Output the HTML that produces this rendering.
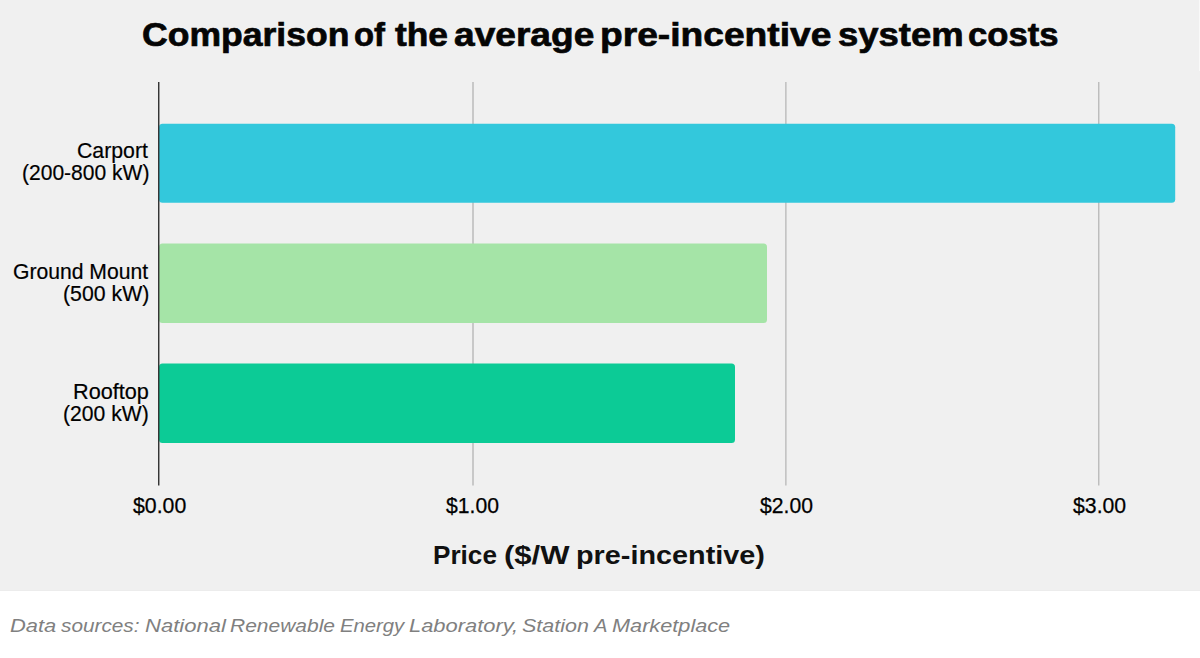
<!DOCTYPE html>
<html>
<head>
<meta charset="utf-8">
<style>
html,body{margin:0;padding:0;}
body{width:1200px;height:658px;position:relative;overflow:hidden;background:#ffffff;font-family:"Liberation Sans",Arial,sans-serif;}
#panel{position:absolute;left:0;top:0;width:1200px;height:591px;background:#f0f0f0;}
.t{position:absolute;white-space:nowrap;line-height:1;transform-origin:0 0;}
.ti{font-size:34px;font-weight:bold;color:#050505;-webkit-text-stroke:0.7px #050505;}
.xt{font-size:26px;font-weight:bold;color:#111;}
.ft{font-size:18.5px;font-style:italic;color:#808080;}
.yl{font-size:22px;color:#000;-webkit-text-stroke:0.2px #000;}
.tk{font-size:22px;color:#000;-webkit-text-stroke:0.25px #000;}
svg{position:absolute;left:0;top:0;}
</style>
</head>
<body>
<div id="panel"></div>
<svg width="1200" height="658" viewBox="0 0 1200 658">
  <rect x="472" y="82" width="2" height="403.5" fill="#c8c8c8"/>
  <rect x="785" y="82" width="1" height="403.5" fill="#c4c4c4"/>
  <rect x="786" y="82" width="1" height="403.5" fill="#d2d2d2"/>
  <rect x="1098" y="82" width="1" height="403.5" fill="#bdbdbd"/>
  <rect x="1099" y="82" width="1" height="403.5" fill="#d8d8d8"/>
  <rect x="159" y="123.7" width="1016.2" height="79" rx="3.5" ry="3.5" fill="#33c8dc"/>
  <rect x="159" y="243.6" width="608" height="79.3" rx="3.5" ry="3.5" fill="#a5e4a7"/>
  <rect x="159" y="363.6" width="576" height="79.4" rx="3.5" ry="3.5" fill="#0ccb96"/>
  <rect x="158" y="82" width="1.45" height="403.5" fill="#353535"/>
  <rect x="0" y="590" width="1200" height="1" fill="#ececec"/>
  <rect x="1199" y="0" width="1" height="71" fill="#f9f9f9"/>
</svg>
<div class="t ti" style="left:141.88px;top:17.00px;transform:scaleX(1.0454)">Comparison</div>
<div class="t ti" style="left:354.48px;top:17.00px;transform:scaleX(0.9645)">of</div>
<div class="t ti" style="left:395.43px;top:17.00px;transform:scaleX(1.0396)">the</div>
<div class="t ti" style="left:454.14px;top:17.00px;transform:scaleX(1.0912)">average</div>
<div class="t ti" style="left:599.85px;top:17.00px;transform:scaleX(1.0934)">pre-incentive</div>
<div class="t ti" style="left:837.72px;top:17.00px;transform:scaleX(1.0721)">system</div>
<div class="t ti" style="left:967.92px;top:17.00px;transform:scaleX(1.0187)">costs</div>
<div class="t xt" style="left:433.46px;top:542.00px;transform:scaleX(1.0050)">Price</div>
<div class="t xt" style="left:504.28px;top:542.00px;transform:scaleX(1.1939)">($/W</div>
<div class="t xt" style="left:575.96px;top:542.00px;transform:scaleX(1.1077)">pre-incentive)</div>
<div class="t ft" style="left:9.88px;top:616.50px;transform:scaleX(1.1850)">Data</div>
<div class="t ft" style="left:61.44px;top:616.50px;transform:scaleX(1.1223)">sources:</div>
<div class="t ft" style="left:144.86px;top:616.50px;transform:scaleX(1.1900)">National</div>
<div class="t ft" style="left:229.92px;top:616.50px;transform:scaleX(1.1340)">Renewable</div>
<div class="t ft" style="left:339.55px;top:616.50px;transform:scaleX(1.0955)">Energy</div>
<div class="t ft" style="left:409.08px;top:616.50px;transform:scaleX(1.1837)">Laboratory,</div>
<div class="t ft" style="left:521.53px;top:616.50px;transform:scaleX(1.1608)">Station</div>
<div class="t ft" style="left:594.42px;top:616.50px;transform:scaleX(1.0903)">A</div>
<div class="t ft" style="left:612.07px;top:616.50px;transform:scaleX(1.1728)">Marketplace</div>
<div class="t yl" style="left:77.18px;top:140.30px;transform:scaleX(0.9670)">Carport</div>
<div class="t yl" style="left:21.70px;top:161.90px;transform:scaleX(0.9561)">(200-800 kW)</div>
<div class="t yl" style="left:12.99px;top:261.10px;transform:scaleX(0.9607)">Ground Mount</div>
<div class="t yl" style="left:62.79px;top:282.60px;transform:scaleX(0.9672)">(500 kW)</div>
<div class="t yl" style="left:72.83px;top:381.20px;transform:scaleX(0.9844)">Rooftop</div>
<div class="t yl" style="left:63.20px;top:402.60px;transform:scaleX(0.9603)">(200 kW)</div>
<div class="t tk" style="left:132.80px;top:494.70px;transform:scaleX(0.9674)">$0.00</div>
<div class="t tk" style="left:446.10px;top:494.70px;transform:scaleX(0.9618)">$1.00</div>
<div class="t tk" style="left:759.70px;top:494.70px;transform:scaleX(0.9618)">$2.00</div>
<div class="t tk" style="left:1072.70px;top:494.70px;transform:scaleX(0.9655)">$3.00</div>
</body>
</html>
